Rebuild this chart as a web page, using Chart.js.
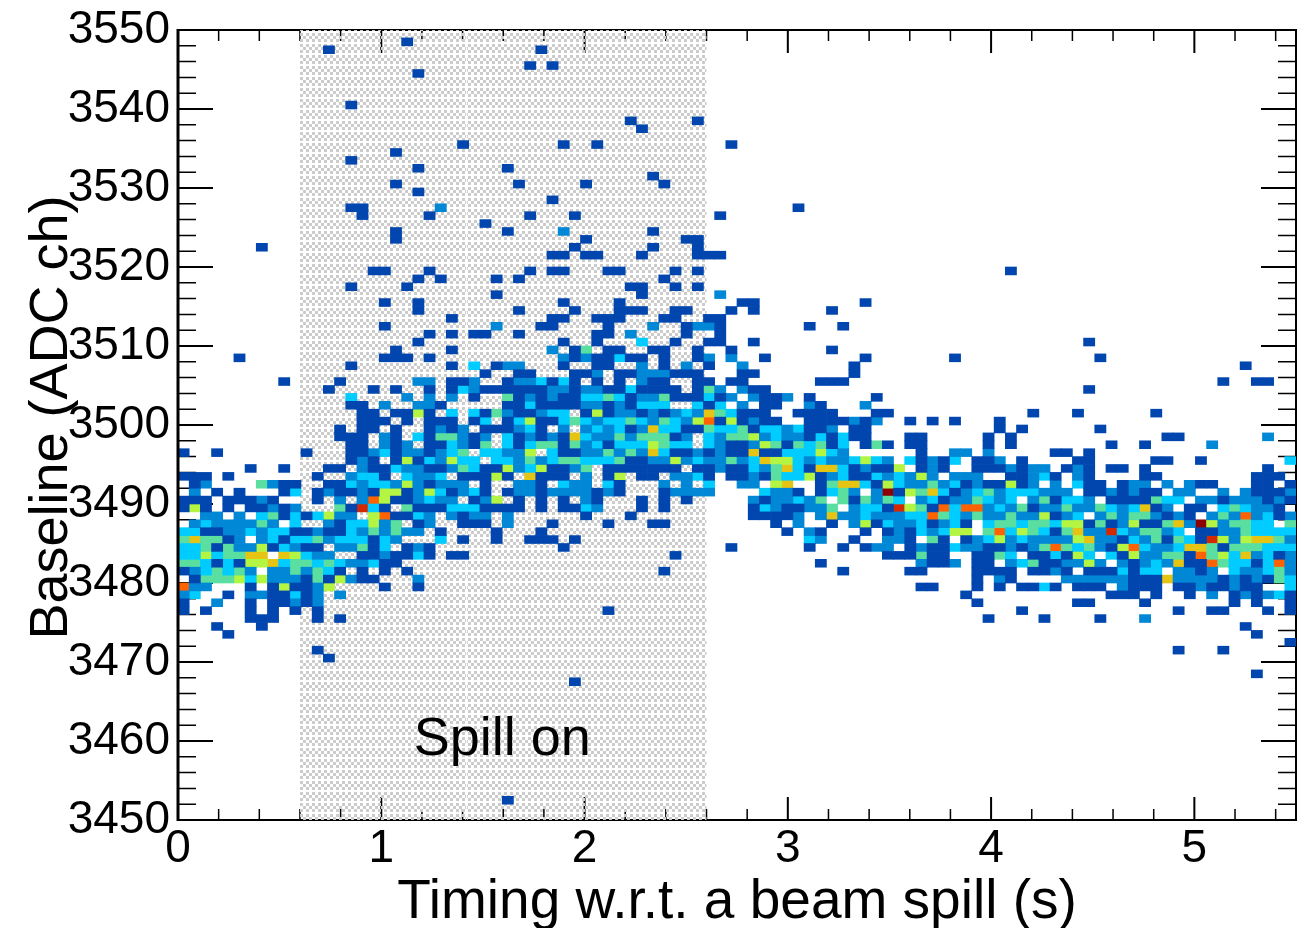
<!DOCTYPE html>
<html>
<head>
<meta charset="utf-8">
<title>Baseline vs timing</title>
<script src="https://cdn.jsdelivr.net/npm/chart.js@4"></script>
<style>
html, body { margin: 0; padding: 0; background: #fff; }
canvas { display: block; }
</style>
</head>
<body>
<canvas id="grafico" width="1309" height="928"></canvas>
<script>
const xMin = 0, xMax = 5.5, xBinWidth = 0.055;
const yMin = 3450, yMax = 3550;
const xMajor = [0, 1, 2, 3, 4, 5];
const spillStart = 0.6, spillEnd = 2.6, spillSeam = 1.42;
const spillLabel = 'Spill on';

const levelColors = ['#0046ae', '#0088d6', '#00ccff', '#5adfa0', '#b4f543', '#e6c414', '#ff6200', '#d42800', '#8c0000'];

// each row: [row from the top, "firstColumn:colourLevels ..."]
const binRows = [
  [1, '20:1'],
  [2, '13:1 32:1'],
  [4, '31:1 33:1'],
  [5, '21:1'],
  [9, '15:1'],
  [11, '40:1 46:1'],
  [12, '41:1'],
  [14, '25:1 34:1 37:1 49:1'],
  [15, '19:1'],
  [16, '15:1'],
  [17, '21:1 29:1'],
  [18, '42:1'],
  [19, '19:1 30:1 36:1 43:1'],
  [20, '21:1'],
  [21, '33:1'],
  [22, '15:11 23:2 55:1'],
  [23, '16:1 22:1 31:1 35:1 48:1'],
  [24, '27:1'],
  [25, '19:1 29:1 34:2 42:1'],
  [26, '19:1 36:1 45:11'],
  [27, '7:1 35:1 42:1 46:1'],
  [28, '33:11 36:11 41:1 46:111'],
  [30, '17:11 22:1 31:1 33:11 38:11 44:1 46:1 74:1'],
  [31, '21:1 23:1 28:1 30:1 43:1'],
  [32, '15:1 20:1 40:11 44:1 46:1'],
  [33, '28:1 41:1 48:2'],
  [34, '18:1 21:1 34:1 39:1 50:11 61:1'],
  [35, '21:1 30:1 35:1 39:111 44:11 49:1 51:1 58:1'],
  [36, '24:1 33:11 37:111 43:11 47:11'],
  [37, '18:1 28:2 32:11 38:1 42:2 45:1 46:22 48:1 56:1 59:1'],
  [38, '22:1 24:1 26:11 30:1 37:11 40:2 45:1 48:1'],
  [39, '21:1 34:1 37:1 41:3 44:1 47:11 51:1 81:1'],
  [40, '19:1 24:1 33:2 35:1 36:4 38:11 42:11 46:1 49:1 58:1'],
  [41, '5:1 18:111 22:1 34:2 35:1 36:2 37:11 39:3 40:11 43:1 46:1 47:2 49:2 52:1 61:1 69:1 82:1'],
  [42, '15:1 24:1 26:3 28:1 29:22 34:1 37:11 41:2 43:1 45:2 47:1 50:2 60:1 95:1'],
  [43, '27:1 30:11 35:11 37:2 39:11 41:222 44:111 50:11 60:1'],
  [44, '9:1 14:1 21:22 24:11 26:2 29:1 30:22 32:3 33:1 34:3 35:1 37:1 39:1 41:2 42:11 46:11 49:11 57:111 93:1 96:11'],
  [45, '13:1 17:1 19:1 22:1 24:1 25:3 26:2 27:111111 33:22 35:1 36:22 38:11 40:3 41:1111 46:1 47:4 48:2 50:2 51:11 81:1'],
  [46, '15:3 20:2 22:2 24:2 26:1 29:4 30:1 31:2 32:1 33:2 34:11 36:33 38:4 39:3 40:1 41:22 43:4 44:111 47:3 48:1 49:2 51:2 52:11 54:2 56:1 62:1'],
  [47, '15:11 18:2 21:22 23:1 29:11 31:3 32:1111 36:22 38:1 39:2 40:1 41:333 46:3 47:1 48:3 50:2 52:11 56:2 57:1 61:2'],
  [48, '16:11 19:11 21:5 22:1 24:3 26:3 27:1 28:4 29:2 30:11 32:2 33:33 36:1 37:5 38:1 39:22 41:1 42:2 43:1 44:2 45:3 46:2 47:6 48:4 49:3 50:111 55:1111 62:11 76:1 80:1 87:1'],
  [49, '16:111 20:1 22:111 26:1 27:3 29:1 30:3 31:5 32:11 34:3 35:4 36:3 37:2 38:33 40:4 41:3 42:2 43:4 44:3 45:2 46:5 47:7 48:1 49:5 50:1 51:2 52:11 56:1111 60:2 61:1 62:2 65:1 67:1 69:1 73:1'],
  [50, '14:1 16:11 19:1 22:1 23:2 24:1 25:2 27:111 30:2 31:3 32:1 34:2 36:2 37:3 38:2 39:3 40:1 41:2 42:6 43:33 45:11 47:4 48:33 50:4 51:1 52:33 54:2 55:3 56:11 58:2 60:11 73:1 75:1 82:1'],
  [51, '14:111 18:2 19:1 21:3 22:1 23:44 25:2 26:1 27:2 29:3 30:1 31:2 32:1 33:2 34:1 35:6 36:3 37:22 39:4 40:2 41:444 44:1 45:2 47:3 48:2 49:44 51:5 52:2 53:3 54:22 56:1 57:3 58:1 59:3 60:11 65:11 72:1 74:1 88:11 97:2'],
  [52, '15:11 18:2 19:1 20:2 22:11 24:3 25:2 26:1 27:4 29:3 30:1 31:3 32:44 34:1 35:4 36:2 37:3 38:1 39:333 42:5 43:4 44:33 47:3 48:2 49:11 51:2 52:5 53:4 54:1 55:4 56:3 57:4 58:1 59:3 61:1 62:4 63:1 65:11 72:1 74:1 83:1 86:1 92:2'],
  [53, '0:1 3:1 11:1 15:11 17:2 18:3 19:1 20:22 22:1 23:2 24:3 25:4 27:33 29:22 31:5 33:3 34:11 36:22 38:4 39:2 40:4 41:2 42:6 43:3 44:11 46:2 47:1 48:2 49:11 51:6 52:11 54:333 57:5 58:3 59:2 66:1 69:22 72:2 78:11 81:1'],
  [54, '15:1 16:2 17:1 19:1 20:5 21:1 22:3 23:2 24:5 25:33 28:33 30:2 31:4 32:2 33:3 34:44 36:333 39:4 40:11 42:22 44:5 45:2 46:3 47:22 49:4 50:2 51:3 52:6 53:55 55:3 56:2 57:3 58:22 60:3 61:5 62:3 63:2 65:3 66:1 67:2 68:1 69:3 71:11 73:2 75:1 80:11 87:11 91:1 99:3'],
  [55, '6:1 9:1 13:11 16:2 17:11 19:3 20:22 22:11 24:2 25:4 26:3 27:11 29:5 30:2 31:3 32:5 33:11 35:2 36:4 38:1111111 46:11 48:2 49:11 51:3 52:2 53:4 54:6 55:3 56:1 57:66 59:3 60:1 61:2 62:11 64:5 66:1 67:2 68:1 71:111 74:2 75:1 76:22 79:1 80:2 81:1 83:11 86:1 97:1'],
  [56, '0:111 4:1 12:1 15:2 16:33 18:1 20:3 21:22 23:3 25:111 28:5 29:1 31:6 32:111 36:2 38:1 39:5 41:11 44:22 46:3 47:1 49:11 51:2 52:1 53:4 54:33 56:5 57:1 58:2 59:3 60:11 62:3 63:2 64:3 65:2 66:5 67:2 69:222 74:11 76:2 77:3 78:1 80:2 81:1 86:11 96:111'],
  [57, '1:1 2:2 7:4 8:2 9:11 13:11 15:3 16:2 17:33 19:2 20:5 21:2 22:1 23:222 27:1 30:22 32:1 34:3 35:22 38:3 39:1 43:2 45:2 47:3 50:22 53:5 54:6 57:1 58:4 59:66 61:3 62:1 63:5 64:3 65:22 67:4 68:2 69:3 70:1 71:2 72:11 74:5 75:1 76:2 78:2 80:3 81:11 84:1 85:22 88:2 90:2 91:11 96:11 99:1'],
  [58, '1:2 3:1 5:1 9:1 10:3 12:1 13:2 14:11 16:2 17:1 18:55 20:1 21:2 22:5 23:3 24:1 25:2 26:3 27:1 29:1 30:22 32:1 33:2222 37:1 38:2 39:1 43:1 44:22 46:22 52:3 53:22 55:1 57:1 58:3 59:4 60:2 62:2 63:9 64:1 65:5 66:4 67:6 68:3 69:1 70:2 71:3 72:4 73:2 74:333 77:222 81:11 83:2 84:1 85:2 86:11 89:22 93:2 95:2 96:111 99:2'],
  [59, '0:111 4:111 7:2 8:1 12:1 14:2 16:2 17:7 18:5 19:11 21:2 22:3 23:22 26:1 27:2 28:5 30:1 32:1 34:1 36:2 37:1 41:1 43:1 45:1 51:2 52:1 53:22 55:3 56:2 57:4 59:4 60:1 61:4 62:2 63:4 64:3 66:2 67:3 68:1 69:22 71:4 72:3 73:2 74:3 76:2 77:4 78:1 79:33 81:2 83:1111 87:4 88:33 91:22 93:1 94:222 97:1 98:2 99:1'],
  [60, '0:1 1:5 2:1 4:1 6:11 8:2 9:1 10:2 14:4 15:1 16:8 17:3 18:1 20:4 21:111 24:333 27:1111 32:1 34:11 36:3 37:2 41:1 43:1 51:1 52:3 53:2 54:11 56:22 58:4 60:2 61:33 63:1 64:8 65:5 66:4 67:1 68:7 69:3 70:77 72:2 73:3 74:2 75:4 76:1 77:22 79:4 80:22 82:4 83:3 84:2 85:3 86:6 87:1 88:2 90:11 93:3 94:4 95:3 96:22 98:1'],
  [61, '2:22 5:2 7:3 8:4 9:1 10:3 11:1 12:3 13:5 14:22 17:5 18:7 19:11 21:3 22:2 24:2 25:1 26:22 29:2 36:1 40:1 51:1111 55:2 57:2 58:6 59:22 61:3 62:222 65:33 67:7 68:4 69:3 70:2 71:4 72:22 74:4 75:22 77:5 78:1 79:2 80:3 82:2 83:4 84:2 85:44 87:2 88:1 89:2 90:1 92:2 93:4 94:2 95:7 96:2 97:3 98:1 99:2'],
  [62, '1:2 2:3 3:2222 7:4 8:2 10:3 13:2 14:1 15:33 17:5 18:2 19:4 21:1 22:2 25:111 29:2 33:1 38:1 42:11 53:1 55:2 58:1 60:2 61:5 62:1 63:3 64:22 66:3 67:1 68:2 69:3 70:1 72:3 73:44 75:3 76:44 78:3 79:55 81:1 82:4 83:1 84:2 85:5 86:11 88:4 89:6 90:2 91:9 92:5 93:2 94:44 96:33 99:4'],
  [63, '0:33 2:11 4:22 6:3 7:2 8:33 10:11 12:2 13:11 15:3 16:2 17:4 18:2 19:4 20:22 23:1 28:1 32:1 54:1 56:2 57:1 61:1 63:1 64:2 65:1 66:3 67:2 68:3 69:55 72:4 73:7 74:3 75:5 76:4 77:3 78:1 79:4 80:6 81:22 83:8 84:3 85:2 86:44 88:2 89:3 91:11 93:22 95:4 96:3333'],
  [64, '0:4 1:6 2:44 4:1 5:2 7:2 8:3 9:1 10:33 12:4 13:2 14:33 16:3 17:1 18:3 19:2 23:3 25:1 28:1 31:111 35:1 56:3 57:2 60:1 63:22 65:1 67:4 68:1 70:1 71:2 72:3 73:5 74:2 75:3 76:2222 80:5 81:6 82:22 84:1 85:3 86:2 87:4 88:1 89:4 90:3 91:1 92:8 93:5 94:2 95:5 96:66 98:4 99:2'],
  [65, '0:33 2:4 3:1 4:4 5:22 7:5 8:1 9:3 10:2 11:11 14:22 16:4 17:1 18:3 20:1 21:2 22:1 34:1 49:1 56:1 59:1 61:1 62:22 65:1 66:2 67:11 69:3 70:22 72:11 74:2 75:1 76:2 77:4 78:7 79:4 80:3 81:4 82:2 83:1 84:5 85:7 86:3 87:22 89:3 90:66 92:4 93:1 94:444 97:333'],
  [66, '0:33 2:5 3:3 4:44 6:66 9:6 10:5 11:3 12:22 16:11 18:2 19:11 21:3 22:1 24:11 44:1 63:111 66:4 67:11 71:11 73:4 74:3 76:11 78:3 79:1 80:5 81:3 83:3 84:1 85:5 86:22 88:44 90:1 91:7 92:4 93:5 94:3 95:6 96:2 97:3 98:1 99:2'],
  [67, '0:44 2:3 3:1 4:3 5:1 6:55 8:6 9:3 10:44 12:3 13:4 14:3 15:22 17:3 18:11 57:1 66:2 67:11 69:2 71:11 74:2 75:3 76:4 77:11 79:22 81:5 82:2 84:2 85:1 86:2 87:3 88:2 89:6 90:11 92:7 93:4 94:33 96:1 97:3 98:7 99:2'],
  [68, '0:1 1:2 2:3 3:4 4:3 5:4 6:2 8:22 10:4 11:2 12:4 13:3 14:1 16:1 18:1 20:1 43:1 59:1 65:11 71:1111 76:11 78:2 79:1 81:111 84:3 85:1 86:33 89:22 91:1 92:2 94:3 95:22 97:3 98:4 99:2'],
  [69, '1:1 2:444 5:5 6:3 7:5 8:222 11:1 12:4 13:1 14:5 15:2 16:11 21:2 71:1 73:2 74:1 79:222222 85:111 88:6 89:2222 93:1 94:2 95:1 96:2 97:1 98:4 99:3'],
  [70, '0:7 1:22 6:1 8:1 9:5 10:11 12:2 13:5 18:1 21:1 66:11 71:1 73:1 75:11 77:3 78:1 80:111 84:2 85:111 89:11 91:2 92:11 94:2 95:11 99:3'],
  [71, '0:2 1:3 4:1 6:22 8:11 10:3 11:1 12:2 14:2 70:1 83:111 87:1 90:1 92:2 94:1 95:2 96:1 97:2 98:3 99:1'],
  [72, '0:1 3:2 6:1 8:11 10:2 11:1 12:2 71:1 80:11 86:1 94:1 96:1 99:1'],
  [73, '0:1 2:1 6:1 8:1 10:1 12:1 38:1 75:1 89:1 92:11 97:1 99:1'],
  [74, '6:111 12:1 14:1 72:1 77:1 82:1 86:2'],
  [75, '3:1 7:1 95:1'],
  [76, '4:1 96:1'],
  [77, '99:1'],
  [78, '12:1 89:1 93:1'],
  [79, '13:1'],
  [81, '96:1'],
  [82, '35:1'],
  [97, '29:1']
];

// one dataset per colour level
const levelData = levelColors.map(() => []);
binRows.forEach(([row, text]) => {
  text.split(' ').forEach(run => {
    const [first, levels] = run.split(':');
    [...levels].forEach((lvl, i) => {
      const col = Number(first) + i;
      levelData[Number(lvl) - 1].push({
        x: (col + 0.5) * xBinWidth,
        y: [yMax - row - 1, yMax - row]
      });
    });
  });
});

const FONT = '"Liberation Sans", Arial, sans-serif';

// checker pattern of the spill band, transparent holes let the ticks show through
function spillPattern(ctx) {
  const c = document.createElement('canvas');
  c.width = 6; c.height = 11;
  const p = c.getContext('2d');
  p.fillStyle = '#cccccc';
  p.fillRect(0, 0, 3, 3); p.fillRect(3, 3, 3, 3); p.fillRect(0, 6, 3, 3);
  return ctx.createPattern(c, 'repeat');
}

function drawTicks(ctx, x, y, area) {
  ctx.strokeStyle = '#000';
  for (let i = 0; Math.round(i * 10) <= xMax * 10; i += 0.2) {
    const major = Math.round(i * 10) % 10 === 0;
    const px = x.getPixelForValue(i), len = major ? 23 : 11;
    ctx.lineWidth = major ? 2 : 1.5;
    ctx.beginPath();
    ctx.moveTo(px, area.bottom); ctx.lineTo(px, area.bottom - len);
    ctx.moveTo(px, area.top); ctx.lineTo(px, area.top + len);
    ctx.stroke();
  }
  for (let v = yMin; v <= yMax; v += 2) {
    const major = (v - yMin) % 10 === 0;
    const py = y.getPixelForValue(v), len = major ? 35 : 18;
    ctx.lineWidth = major ? 2 : 1.5;
    ctx.beginPath();
    ctx.moveTo(area.left, py); ctx.lineTo(area.left + len, py);
    ctx.moveTo(area.right, py); ctx.lineTo(area.right - len, py);
    ctx.stroke();
  }
}

const spillBand = {
  id: 'spillBand',
  beforeDatasetsDraw(chart) {
    const { ctx, chartArea: area, scales: { x, y } } = chart;
    ctx.save();
    ctx.lineCap = 'butt';
    drawTicks(ctx, x, y, area);
    ctx.strokeStyle = '#000';
    ctx.lineWidth = 2;
    ctx.strokeRect(area.left, area.top, area.right - area.left, area.bottom - area.top);
    ctx.fillStyle = spillPattern(ctx);
    const a = x.getPixelForValue(spillStart), b = x.getPixelForValue(spillEnd), s = x.getPixelForValue(spillSeam);
    ctx.fillRect(a, area.top, s - a - 0.5, area.bottom - area.top);
    ctx.fillRect(s + 0.5, area.top, b - s - 0.5, area.bottom - area.top);
    ctx.restore();
  },
  afterDraw(chart) {
    const { ctx, chartArea: area, scales: { x, y } } = chart;
    ctx.save();
    ctx.fillStyle = '#000';
    ctx.fillRect(area.left - 1.5, area.top - 1, 3, area.bottom - area.top + 2);
    ctx.font = '54px ' + FONT;
    ctx.textBaseline = 'alphabetic';
    ctx.fillText(spillLabel, x.getPixelForValue(1.16), y.getPixelForValue(3458.2));
    ctx.restore();
  }
};

const ctx = document.getElementById('grafico').getContext('2d');
const grafico = new Chart(ctx, {
  type: 'bar',
  data: {
    datasets: levelData.map((points, i) => ({
      label: 'level ' + (i + 1),
      data: points,
      backgroundColor: levelColors[i],
      borderWidth: 0,
      barThickness: 11.18,
      grouped: false
    }))
  },
  options: {
    responsive: false,
    animation: false,
    events: [],
    layout: { padding: { top: 30, right: 13, left: 0, bottom: 0 } },
    plugins: { legend: { display: false }, tooltip: { enabled: false } },
    scales: {
      x: {
        type: 'linear',
        offset: false,
        min: xMin,
        max: xMax,
        afterFit(scale) { scale.height = 108; scale.paddingLeft = 0; scale.paddingRight = 0; },
        grid: { display: false, drawTicks: false },
        border: { display: false },
        ticks: {
          includeBounds: false,
          autoSkip: false,
          maxRotation: 0,
          stepSize: 1,
          padding: 2,
          color: '#000',
          font: { family: FONT, size: 46 },
          callback: v => (xMajor.includes(v) ? String(v) : '')
        },
        title: {
          display: true,
          text: 'Timing w.r.t. a beam spill (s)',
          color: '#000',
          padding: { top: 0, bottom: 0 },
          font: { family: FONT, size: 55, lineHeight: 0.9 }
        }
      },
      y: {
        min: yMin,
        max: yMax,
        afterFit(scale) { scale.width = 178; scale.paddingTop = 0; scale.paddingBottom = 0; },
        grid: { display: false, drawTicks: false },
        border: { display: false },
        ticks: {
          stepSize: 10,
          padding: 8,
          autoSkip: false,
          color: '#000',
          font: { family: FONT, size: 46 },
          callback: v => String(v)
        },
        title: {
          display: true,
          text: ' Baseline (ADC ch)',
          color: '#000',
          padding: { top: 20, bottom: 0 },
          font: { family: FONT, size: 54, lineHeight: 1.2 }
        }
      }
    }
  },
  plugins: [spillBand]
});
</script>
</body>
</html>
